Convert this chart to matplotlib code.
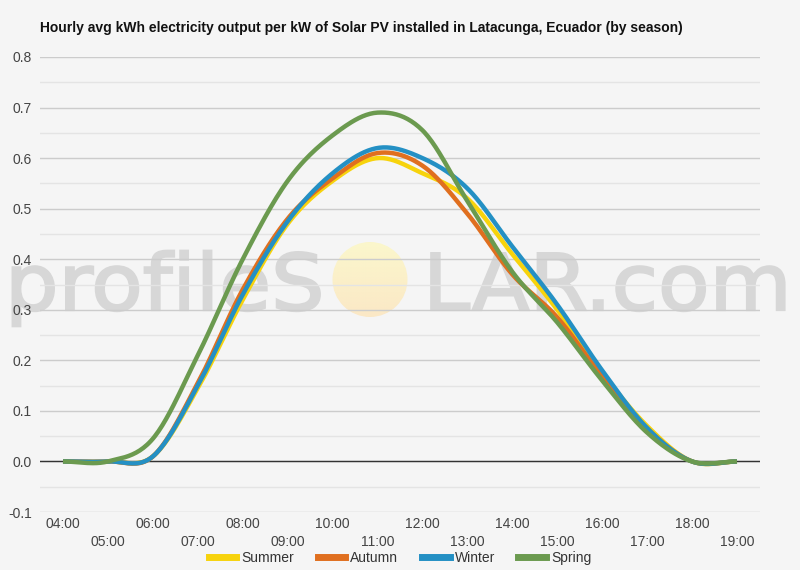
import numpy as np
import matplotlib
matplotlib.use("Agg")
import matplotlib.pyplot as plt
from matplotlib.patches import Circle, PathPatch
from matplotlib.lines import Line2D
from matplotlib.textpath import TextPath
from matplotlib.font_manager import FontProperties
from matplotlib.transforms import Affine2D

plt.rcParams['font.family'] = ['Liberation Sans', 'DejaVu Sans']

# ---- data ----
hours = list(range(4, 20))
summer = [0, 0, 0.01, 0.145, 0.32, 0.47, 0.555, 0.60, 0.57, 0.52, 0.41, 0.30, 0.175, 0.07, 0.0, 0.0]
autumn = [0, 0, 0.01, 0.155, 0.34, 0.48, 0.56, 0.61, 0.585, 0.49, 0.37, 0.285, 0.168, 0.065, 0.0, 0.0]
winter = [0, 0, 0.01, 0.15, 0.33, 0.475, 0.57, 0.62, 0.60, 0.54, 0.425, 0.31, 0.18, 0.066, 0.0, 0.0]
spring = [0, 0, 0.045, 0.21, 0.40, 0.555, 0.645, 0.69, 0.655, 0.515, 0.375, 0.275, 0.16, 0.057, 0.0, 0.0]
series_names = ["Summer", "Autumn", "Winter", "Spring"]
series_colors = ["#f7d30c", "#e06f1f", "#2490c4", "#6b9a4f"]
title = "Hourly avg kWh electricity output per kW of Solar PV installed in Latacunga, Ecuador (by season)"
x_labels = [f"{h:02d}:00" for h in hours]
y_ticks = [-0.1, 0.0, 0.1, 0.2, 0.3, 0.4, 0.5, 0.6, 0.7, 0.8]


def smooth(x, y, n=24, k=1.0):
    """Cubic Hermite curve through the points (Catmull-Rom tangents scaled by k)."""
    x = np.asarray(x, float)
    y = np.asarray(y, float)
    m = np.zeros_like(y)
    m[1:-1] = k * (y[2:] - y[:-2]) / 2.0
    xs, ys = [], []
    for i in range(len(x) - 1):
        t = np.linspace(0, 1, n, endpoint=False)
        h00 = 2 * t**3 - 3 * t**2 + 1
        h10 = t**3 - 2 * t**2 + t
        h01 = -2 * t**3 + 3 * t**2
        h11 = t**3 - t**2
        ys.append(h00 * y[i] + h10 * m[i] + h01 * y[i + 1] + h11 * m[i + 1])
        xs.append(x[i] + t * (x[i + 1] - x[i]))
    xs.append([x[-1]])
    ys.append([y[-1]])
    return np.concatenate(xs), np.concatenate(ys)


bg = "#f5f5f5"
fig = plt.figure(figsize=(8, 5.7), dpi=100, facecolor=bg)

# watermark layer (pixel coordinates)
wm = fig.add_axes([0, 0, 1, 1], zorder=0)
wm.set_xlim(0, 800)
wm.set_ylim(570, 0)
wm.axis("off")
wm.patch.set_alpha(0)
wcol = "#d7d7d7"
fp = FontProperties(family="DejaVu Sans")
for txt, x0 in [("profileS", 5), ("LAR.com", 423)]:
    tp = TextPath((0, 0), txt, size=78, prop=fp)
    tr = Affine2D().scale(1.08, -1.0).translate(x0, 310)
    path = tr.transform_path(tp)
    wm.add_patch(PathPatch(path, facecolor=wcol, edgecolor=wcol, linewidth=1.6, zorder=1))
grad = np.linspace(0, 1, 100)[:, None] * np.ones((1, 10))
cmap = matplotlib.colors.LinearSegmentedColormap.from_list("sun", ["#fbf7cc", "#fbe8c6"])
im = wm.imshow(grad, extent=(332, 408, 317, 242), cmap=cmap, aspect="auto", zorder=1)
circ = Circle((370, 279.5), 37.5, transform=wm.transData, facecolor="none", edgecolor="none")
wm.add_patch(circ)
im.set_clip_path(circ)
wm.set_xlim(0, 800)
wm.set_ylim(570, 0)

# main axes
ax = fig.add_axes([40 / 800, 1 - 512 / 570, 720 / 800, (512 - 57) / 570], zorder=1)
ax.patch.set_alpha(0)
for s in ax.spines.values():
    s.set_visible(False)

ax.set_xlim(3.488, 19.512)
ax.set_ylim(-0.1, 0.8)

ax.set_yticks(y_ticks)
ax.set_yticklabels([f"{v:.1f}" for v in y_ticks])
ax.set_yticks(np.arange(-0.05, 0.8, 0.1), minor=True)
ax.grid(axis="y", which="major", color="#cccccc", linewidth=1)
ax.grid(axis="y", which="minor", color="#e4e4e4", linewidth=1)
ax.axhline(0, color="#333333", linewidth=1, zorder=2)

ax.set_xticks(hours[::2])
ax.set_xticklabels(x_labels[::2])
ax.set_xticks(hours[1::2], minor=True)
ax.set_xticklabels(x_labels[1::2], minor=True)
ax.tick_params(axis="x", which="major", length=0, pad=3.5, labelsize=10, labelcolor="#444444")
ax.tick_params(axis="x", which="minor", length=0, pad=16.5, labelsize=10, labelcolor="#444444")
ax.tick_params(axis="y", which="both", length=0, pad=6, labelsize=10, labelcolor="#444444")

data = [summer, autumn, winter, spring]
for i, (name, vals, col) in enumerate(zip(series_names, data, series_colors)):
    xs, ys = smooth(hours, vals)
    ax.plot(xs, ys, color=col, linewidth=3.2, solid_capstyle="butt", zorder=3 + i, label=name)

fig.text(40 / 800, 1 - 28 / 570, title, fontsize=10, fontweight="bold", color="#111111",
         ha="left", va="center")

handles = [Line2D([0], [0], color=c, linewidth=5) for c in series_colors]
fig.legend(handles, series_names, loc="center", bbox_to_anchor=(0.5, 1 - 558 / 570),
           ncol=4, frameon=False, fontsize=10, handlelength=2.0, handletextpad=0.35,
           columnspacing=1.7, labelcolor="#333333")

fig.savefig("out.png", dpi=100, facecolor=bg)
